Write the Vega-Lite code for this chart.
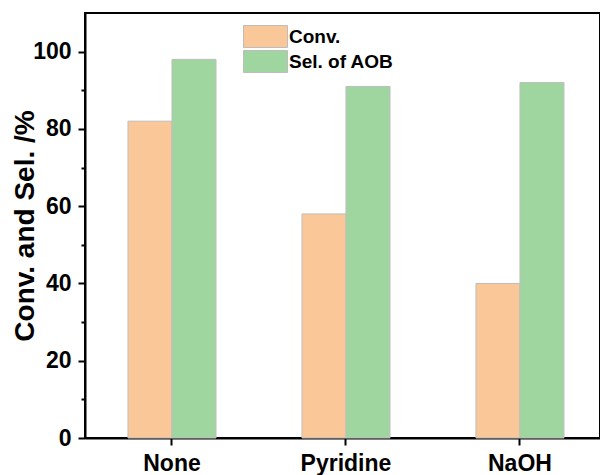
{
  "$schema": "https://vega.github.io/schema/vega-lite/v6.json",
  "width": 515,
  "height": 425,
  "autosize": {"type": "none"},
  "padding": {"left": 85, "top": 13, "right": 0, "bottom": 37},
  "background": "white",
  "config": {"view": {"stroke": "#000000", "strokeWidth": 2}, "font": "Liberation Sans"},
  "data": {
    "values": [
      {"cat": "None", "series": "Conv.", "value": 82},
      {"cat": "None", "series": "Sel. of AOB", "value": 98},
      {"cat": "Pyridine", "series": "Conv.", "value": 58},
      {"cat": "Pyridine", "series": "Sel. of AOB", "value": 91},
      {"cat": "NaOH", "series": "Conv.", "value": 40},
      {"cat": "NaOH", "series": "Sel. of AOB", "value": 92}
    ]
  },
  "layer": [
    {
      "mark": {"type": "bar", "stroke": "#BDBDBD", "strokeWidth": 1},
      "encoding": {
        "x": {
          "field": "cat",
          "type": "nominal",
          "sort": ["None", "Pyridine", "NaOH"],
          "scale": {"paddingInner": 0.494, "paddingOuter": 0.227, "align": 0.544},
          "axis": {
            "title": null,
            "orient": "bottom",
            "labelAngle": 0,
            "labelFont": "Liberation Sans",
            "labelFontWeight": "bold",
            "labelFontSize": 23,
            "labelColor": "black",
            "labelBaseline": "alphabetic",
            "labelPadding": 25,
            "tickSize": 7,
            "tickWidth": 2,
            "tickColor": "black",
            "domainColor": "black",
            "domainWidth": 2
          }
        },
        "xOffset": {
          "field": "series",
          "sort": ["Conv.", "Sel. of AOB"],
          "scale": {"paddingInner": 0, "paddingOuter": 0}
        },
        "y": {
          "field": "value",
          "type": "quantitative",
          "scale": {"domain": [0, 110], "nice": false},
          "axis": {
            "values": [0, 10, 20, 30, 40, 50, 60, 70, 80, 90, 100],
            "labelExpr": "datum.value % 20 === 0 ? datum.label : ''",
            "tickSize": {"condition": {"test": "datum.value % 20 === 0", "value": 7}, "value": 4},
            "tickWidth": 2,
            "tickColor": "black",
            "domainColor": "black",
            "domainWidth": 2,
            "grid": false,
            "labelFont": "Liberation Sans",
            "labelFontWeight": "bold",
            "labelFontSize": 23,
            "labelColor": "black",
            "labelPadding": 7,
            "title": "Conv. and Sel. /%",
            "titleFont": "Liberation Sans",
            "titleFontWeight": "bold",
            "titleFontSize": 28,
            "titleColor": "black",
            "titleX": -52,
            "titleY": 212.5,
            "titleAngle": -90,
            "titleAlign": "center",
            "titleBaseline": "alphabetic"
          }
        },
        "color": {
          "field": "series",
          "type": "nominal",
          "scale": {"domain": ["Conv.", "Sel. of AOB"], "range": ["#FAC898", "#9FD69F"]},
          "legend": {
            "orient": "none",
            "legendX": 158,
            "legendY": 12,
            "title": null,
            "symbolType": "M-1,-1H3V1H-1Z",
            "symbolSize": 484,
            "symbolStrokeColor": "#BDBDBD",
            "symbolStrokeWidth": 1,
            "symbolOpacity": 1,
            "labelFont": "Liberation Sans",
            "labelFontSize": 19,
            "labelFontWeight": "bold",
            "labelColor": "black",
            "rowPadding": -4,
            "labelOffset": 23,
            "padding": 0
          }
        }
      }
    },
    {
      "data": {"values": [{"top": 110}]},
      "mark": {"type": "rule", "color": "#000000", "strokeWidth": 2},
      "encoding": {"y": {"field": "top", "type": "quantitative"}}
    }
  ]
}
